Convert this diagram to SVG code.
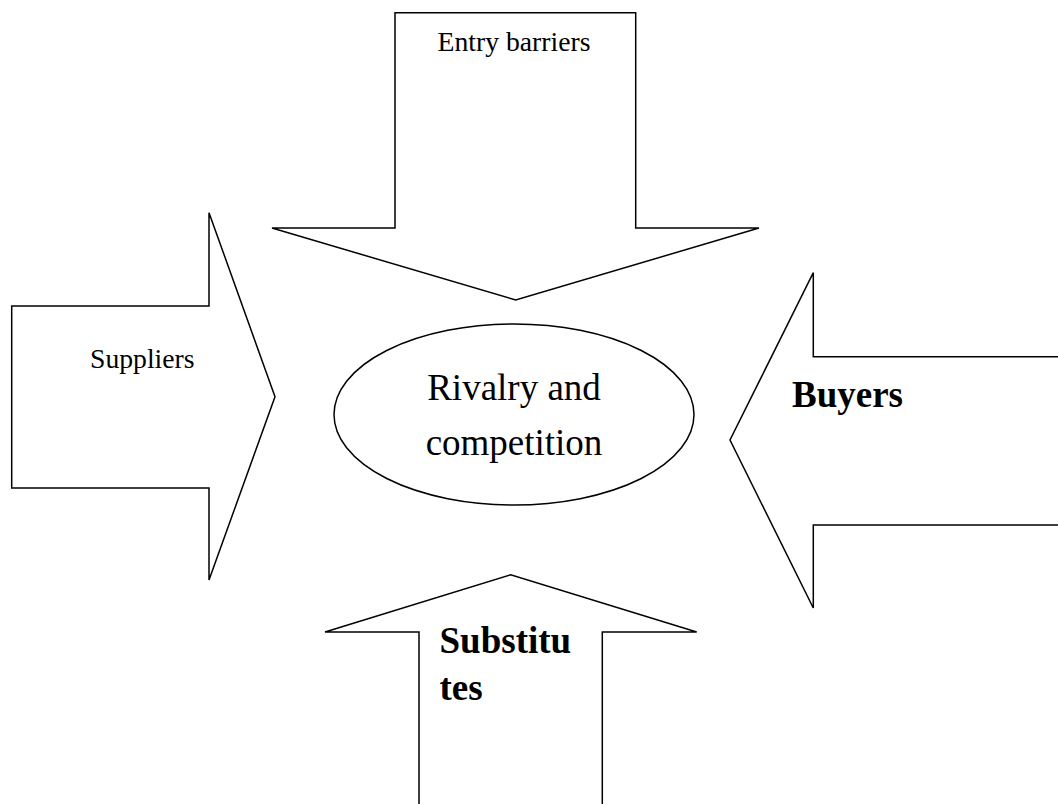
<svg xmlns="http://www.w3.org/2000/svg" width="1058" height="804" viewBox="0 0 1058 804">
<style>
.shape{fill:#fff;stroke:#000;stroke-width:1.5;stroke-linejoin:miter}
.t{font-family:"Liberation Serif","Times New Roman",serif;fill:#000}
.s{font-size:27.7px}
.l{font-size:37px}
.b{font-weight:bold}
</style>
<rect width="1058" height="804" fill="#fff"/>
<g id="entry-barriers">
<polygon class="shape" points="395,12.7 635.7,12.7 635.7,228 759,228 515.7,300 272,228 395,228"/>
<text class="t s" x="514" y="50.5" text-anchor="middle">Entry barriers</text>
</g>
<g id="suppliers">
<polygon class="shape" points="11.7,306 209,306 209,212.7 275,396.7 209,580 209,488 11.7,488"/>
<text class="t s" x="90" y="368">Suppliers</text>
</g>
<g id="buyers">
<polygon class="shape" points="1059,356.7 813.3,356.7 813.3,272.7 730,440 813.3,608 813.3,525 1059,525"/>
<text class="t l b" x="792" y="406.5">Buyers</text>
</g>
<g id="substitutes">
<polygon class="shape" points="419,805 419,632 325,632 510.7,574.7 696.7,632 602.3,632 602.3,805"/>
<text class="t l b" x="439.5" y="653.3">Substitu</text>
<text class="t l b" x="439.5" y="700">tes</text>
</g>
<g id="rivalry">
<ellipse class="shape" cx="514" cy="414.5" rx="180" ry="90.5"/>
<text class="t l" x="514" y="400" text-anchor="middle">Rivalry and</text>
<text class="t l" x="514" y="455" text-anchor="middle">competition</text>
</g>
<g id="connectors"></g>
</svg>
